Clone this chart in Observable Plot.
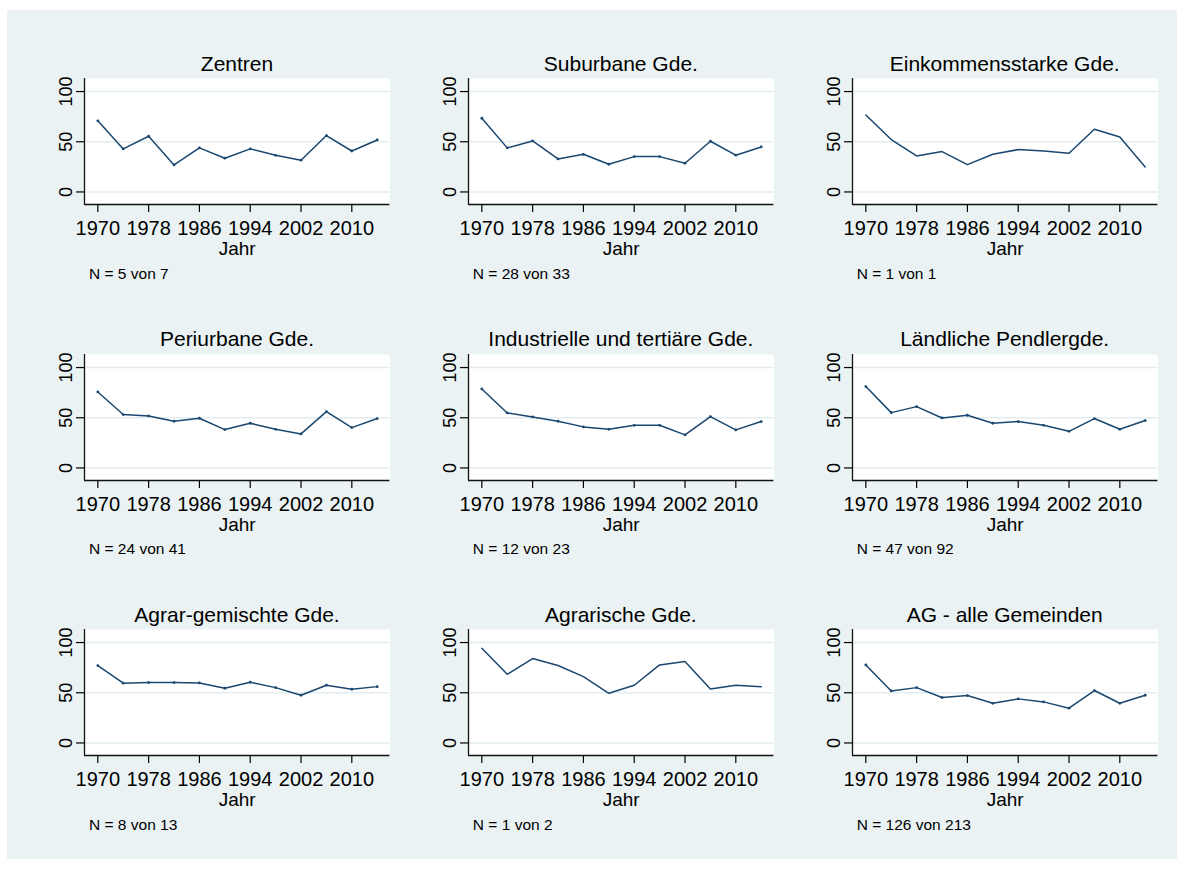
<!DOCTYPE html>
<html><head><meta charset="utf-8">
<script src="https://cdn.jsdelivr.net/npm/d3@7"></script>
<script src="https://cdn.jsdelivr.net/npm/@observablehq/plot@0.6"></script>
<style>
body{margin:0;background:#fff;}
#chart{position:relative;width:1184px;height:869px;background:#fff;font-family:"Liberation Sans",Arial,Helvetica,sans-serif;overflow:hidden}
#bg{position:absolute;left:7px;top:10px;width:1170px;height:849px;background:#eaf2f3}
.ttl{position:absolute;font-size:21px;color:#000;white-space:nowrap;transform:translateX(-50%);line-height:1}
.note{position:absolute;font-size:15.5px;color:#000;white-space:nowrap;line-height:1}
.panel{position:absolute}
</style></head><body><div id="chart"><div id="bg"></div></div>
<script>
const years = [1970, 1974, 1978, 1982, 1986, 1990, 1994, 1998, 2002, 2006, 2010, 2014];
const xTicks = [1970, 1978, 1986, 1994, 2002, 2010];
const yTicks = [0, 50, 100];
const panelTitles = ["Zentren", "Suburbane Gde.", "Einkommensstarke Gde.",
  "Periurbane Gde.", "Industrielle und tertiäre Gde.", "Ländliche Pendlergde.",
  "Agrar-gemischte Gde.", "Agrarische Gde.", "AG - alle Gemeinden"];
const panelNotes = ["N = 5 von 7", "N = 28 von 33", "N = 1 von 1",
  "N = 24 von 41", "N = 12 von 23", "N = 47 von 92",
  "N = 8 von 13", "N = 1 von 2", "N = 126 von 213"];
const xAxisTitle = "Jahr";

const zentren       = [70.8, 42.9, 55.5, 26.9, 43.9, 33.6, 42.9, 36.5, 31.6, 56.2, 40.8, 51.8];
const suburbane     = [73.4, 43.9, 50.8, 32.9, 37.5, 27.6, 35.2, 35.2, 28.6, 50.5, 36.6, 44.8];
const einkommen     = [76.7, 52.2, 35.9, 40.2, 27.2, 37.5, 42.2, 40.9, 38.5, 62.5, 54.8, 24.9];
const periurban     = [75.7, 53.2, 51.8, 46.5, 49.5, 38.2, 44.5, 38.5, 33.9, 56.1, 40.2, 49.2];
const industrie     = [78.7, 54.8, 50.8, 46.5, 40.9, 38.5, 42.5, 42.5, 32.9, 51.2, 37.9, 46.2];
const laendlich     = [81.1, 55.1, 61.1, 49.8, 52.5, 44.5, 46.2, 42.5, 36.5, 49.2, 38.5, 47.2];
const agrarGemischt = [77.1, 59.5, 60.1, 60.1, 59.8, 54.5, 60.5, 55.1, 47.5, 57.5, 53.5, 56.1];
const agrarisch     = [94.4, 68.4, 84.1, 77.1, 66.1, 49.5, 57.5, 77.7, 81.1, 53.8, 57.5, 56.1];
const alle          = [77.7, 51.8, 55.1, 45.2, 47.2, 39.5, 43.9, 40.9, 34.6, 52.2, 39.5, 47.5];
const series = [zentren, suburbane, einkommen, periurban, industrie, laendlich, agrarGemischt, agrarisch, alle];
const showMarkers = [true, true, false, true, true, true, true, false, true];

const xDomain = [1967.9, 2016];
const yDomain = [-12.5, 113];
const lineColor = "#1a476f";
const gridColor = "#e3edf0";

const chart = document.getElementById("chart");
const frameW = 305.4, frameH = 126;
const mL = 80, mR = 12.6, mT = 6, mB = 56;

series.forEach((vals, i) => {
  const col = i % 3, row = Math.floor(i / 3);
  const L = 84.3 + 383.85 * col;
  const T = 78.3 + 275.5 * row;
  const B = T + frameH;
  const data = years.map((y, k) => ({year: y, value: vals[k]}));
  const marks = [
    Plot.frame({fill: "white", stroke: "none"}),
    Plot.ruleY(yTicks, {stroke: gridColor, strokeWidth: 1.5}),
    Plot.line(data, {x: "year", y: "value", stroke: lineColor, strokeWidth: 1.5}),
    showMarkers[i] ? Plot.dot(data, {x: "year", y: "value", r: 1.4, fill: lineColor, stroke: "none"}) : null,
    Plot.ruleX([xDomain[0]], {stroke: "#111", strokeWidth: 1.3}),
    Plot.ruleY([yDomain[0]], {stroke: "#111", strokeWidth: 1.3}),
    Plot.axisX({ticks: xTicks, tickSize: 8, tickPadding: 8, tickFormat: d => String(d), fontSize: 20, strokeWidth: 1.2}),
    Plot.axisY({ticks: yTicks, tickSize: 8, tickPadding: 5, tickRotate: -90, fontSize: 18, strokeWidth: 1.2}),
    Plot.text([xAxisTitle], {frameAnchor: "bottom", lineAnchor: "middle", text: d => d, dy: 44.5, fontSize: 19, fill: "#000"})
  ].filter(Boolean);
  const svg = Plot.plot({
    width: mL + frameW + mR,
    height: mT + frameH + mB,
    marginLeft: mL, marginRight: mR, marginTop: mT, marginBottom: mB,
    x: {domain: xDomain, label: null},
    y: {domain: yDomain, label: null},
    style: {fontFamily: "'Liberation Sans', Arial, Helvetica, sans-serif", fontSize: "19px", color: "#000", background: "transparent", overflow: "visible"},
    marks
  });
  svg.classList.add("panel");
  svg.style.left = (L - mL) + "px";
  svg.style.top = (T - mT) + "px";
  chart.appendChild(svg);

  const t = document.createElement("div");
  t.className = "ttl";
  t.textContent = panelTitles[i];
  t.style.left = (L + frameW / 2) + "px";
  t.style.top = (T - 25.4) + "px";
  chart.appendChild(t);

  const n = document.createElement("div");
  n.className = "note";
  n.textContent = panelNotes[i];
  n.style.left = (L + 4.7) + "px";
  n.style.top = (B + 61.4) + "px";
  chart.appendChild(n);
});
</script></body></html>
